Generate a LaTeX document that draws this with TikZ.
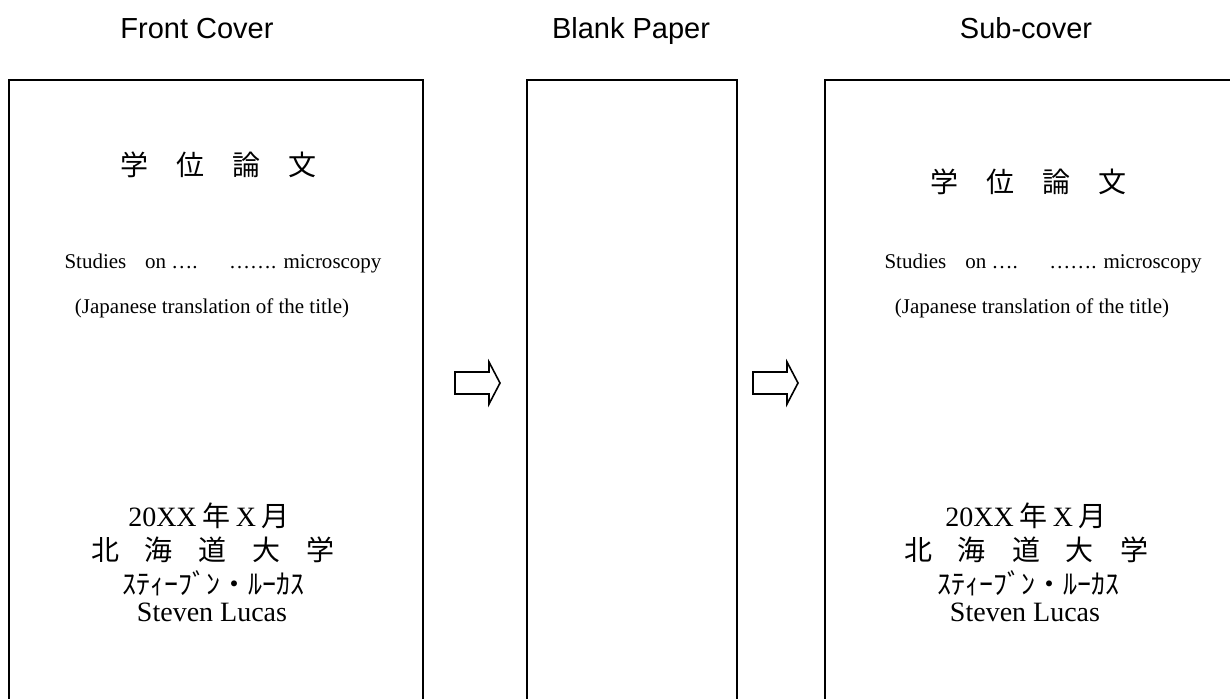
\documentclass[tikz,border=0pt]{standalone}
\usepackage{fontspec}
\setmainfont{Liberation Serif}
\newfontfamily\arialfont{Liberation Sans}
\newfontfamily\cjk{Noto Sans CJK JP}
\usetikzlibrary{calc}
\tikzset{hd/.style={anchor=base,font=\arialfont\fontsize{14.5}{16}\selectfont}}
\tikzset{jp/.style={font=\cjk\fontsize{14}{16}\selectfont}}
\tikzset{sm/.style={anchor=base,font=\fontsize{10.5}{12}\selectfont}}
\tikzset{bg/.style={anchor=base,font=\fontsize{14}{16}\selectfont}}
\tikzset{sheet/.style={line width=0.8pt}}
\tikzset{blk/.style={line width=0.8pt,line join=miter}}
\newcommand{\jc}[1]{{\cjk #1}}

\begin{document}
\begin{tikzpicture}[x=0.5pt,y=-0.5pt,inner sep=0pt]
        \clip (0,0) rectangle (1230,698);
        % headings
        \node[hd] (hFront) at (197,38) {Front Cover};
        \node[hd] (hBlank) at (631,38) {Blank Paper};
        \node[hd] (hSub) at (1026,38) {Sub-cover};
        % sheets
        \draw[sheet] (9,80) rectangle (423,720);
        \draw[sheet] (527,80) rectangle (737,720);
        \draw[sheet] (825,80) rectangle (1239,720);
        % arrows
        \draw[blk] (455,372) -- (489,372) -- (489,362) -- (500,383)
          -- (489,404) -- (489,394) -- (455,394) -- cycle;
        \draw[blk] (753,372) -- (787,372) -- (787,362) -- (798,383)
          -- (787,404) -- (787,394) -- (753,394) -- cycle;
        % front cover
        \node[jp] (fDeg) at (218,165) {学\hspace{1em}位\hspace{1em}論\hspace{1em}文};
        \node[sm] (fTtl) at (223,268) {Studies\hspace{0.9em}on ….\hspace{1.5em}……. microscopy};
        \node[sm] (fTrs) at (212,313.5) {(Japanese translation of the title)};
        \node[bg] (fDate) at (209,526) {20XX\hspace{0.2em}\jc{年}\hspace{0.2em}X\hspace{0.2em}\jc{月}};
        \node[jp] (fUniv) at (213,550) {北\hspace{13pt}海\hspace{13pt}道\hspace{13pt}大\hspace{13pt}学};
        \node[jp] (fKana) at (213,583) {ｽﾃｨｰﾌﾞﾝ・ﾙｰｶｽ};
        \node[bg] (fName) at (212,621) {Steven Lucas};
        % sub-cover
        \node[jp] (sDeg) at (1028,181.5) {学\hspace{1em}位\hspace{1em}論\hspace{1em}文};
        \node[sm] (sTtl) at (1043,268) {Studies\hspace{0.9em}on ….\hspace{1.5em}……. microscopy};
        \node[sm] (sTrs) at (1032,313.5) {(Japanese translation of the title)};
        \node[bg] (sDate) at (1026,526) {20XX\hspace{0.2em}\jc{年}\hspace{0.2em}X\hspace{0.2em}\jc{月}};
        \node[jp] (sUniv) at (1026,550) {北\hspace{13pt}海\hspace{13pt}道\hspace{13pt}大\hspace{13pt}学};
        \node[jp] (sKana) at (1028,583) {ｽﾃｨｰﾌﾞﾝ・ﾙｰｶｽ};
        \node[bg] (sName) at (1025,621) {Steven Lucas};
      \end{tikzpicture}
\end{document}
